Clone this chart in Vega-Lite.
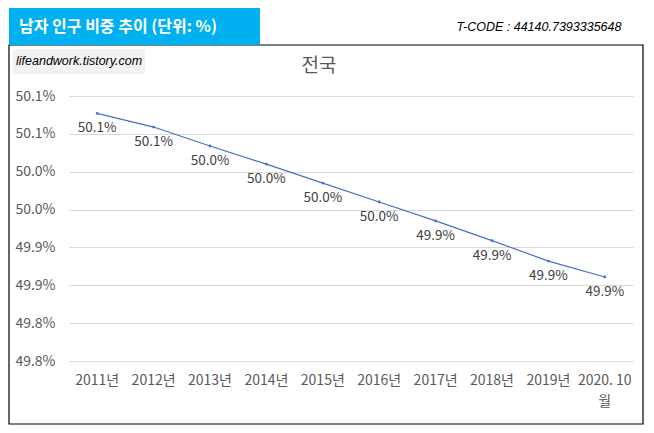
{
  "$schema": "https://vega.github.io/schema/vega-lite/v6.json",
  "autosize": "none",
  "padding": {"left": 69, "top": 96, "right": 21, "bottom": 72},
  "width": 564,
  "height": 265,
  "background": "white",
  "config": {"view": {"stroke": null}, "font": "Noto Sans CJK KR"},
  "data": {"values": [
    {"period": "2011년", "ratio": 0.50077},
    {"period": "2012년", "ratio": 0.50059},
    {"period": "2013년", "ratio": 0.50034},
    {"period": "2014년", "ratio": 0.50010},
    {"period": "2015년", "ratio": 0.49985},
    {"period": "2016년", "ratio": 0.49960},
    {"period": "2017년", "ratio": 0.49935},
    {"period": "2018년", "ratio": 0.49909},
    {"period": "2019년", "ratio": 0.49882},
    {"period": "2020. 10월", "ratio": 0.49861}
  ]},
  "layer": [
    {
      "data": {"values": [{"t": "box"}]},
      "mark": {"type": "rect", "fill": null, "stroke": "black", "strokeWidth": 1.2, "clip": false},
      "encoding": {"x": {"value": -60}, "x2": {"value": 574}, "y": {"value": -51}, "y2": {"value": 328}}
    },
    {
      "data": {"values": [{"t": "title"}]},
      "mark": {"type": "rect", "fill": "#00B0F0", "clip": false},
      "encoding": {"x": {"value": -60}, "x2": {"value": 191}, "y": {"value": -88}, "y2": {"value": -51}}
    },
    {
      "data": {"values": [{"t": "남자 인구 비중 추이 (단위: %)"}]},
      "mark": {"type": "text", "align": "left", "baseline": "middle", "color": "white", "fontSize": 16, "fontWeight": "bold", "font": "Noto Sans CJK KR"},
      "encoding": {"x": {"value": -50}, "y": {"value": -69}, "text": {"field": "t"}}
    },
    {
      "data": {"values": [{"t": "T-CODE : 44140.7393335648"}]},
      "mark": {"type": "text", "align": "center", "baseline": "middle", "color": "black", "fontSize": 12.5, "fontStyle": "italic", "font": "Liberation Sans"},
      "encoding": {"x": {"value": 470}, "y": {"value": -69}, "text": {"field": "t"}}
    },
    {
      "data": {"values": [{"t": "wm"}]},
      "mark": {"type": "rect", "fill": "#F2F2F2", "clip": false},
      "encoding": {"x": {"value": -56}, "x2": {"value": 76}, "y": {"value": -47}, "y2": {"value": -22}}
    },
    {
      "data": {"values": [{"t": "lifeandwork.tistory.com"}]},
      "mark": {"type": "text", "align": "left", "baseline": "middle", "color": "black", "fontSize": 12.5, "fontStyle": "italic", "font": "Liberation Sans"},
      "encoding": {"x": {"value": -53}, "y": {"value": -35}, "text": {"field": "t"}}
    },
    {
      "data": {"values": [{"t": "전국"}]},
      "mark": {"type": "text", "align": "center", "baseline": "middle", "color": "#595959", "fontSize": 19, "font": "Noto Sans CJK KR"},
      "encoding": {"x": {"value": 250}, "y": {"value": -30}, "text": {"field": "t"}}
    },
    {
      "mark": {"type": "line", "color": "#4472C4", "strokeWidth": 1.2},
      "encoding": {
        "x": {"field": "period", "type": "ordinal", "sort": null,
          "scale": {"type": "band", "paddingInner": 0, "paddingOuter": 0},
          "axis": {"title": null, "ticks": false, "domain": false, "grid": false,
            "labelAngle": 0, "labelFontSize": 14, "labelColor": "#595959", "labelPadding": 12,
            "labelFont": "Noto Sans CJK KR", "labelLineHeight": 21,
            "labelExpr": "datum.value == '2020. 10월' ? ['2020. 10', '월'] : datum.value"}},
        "y": {"field": "ratio", "type": "quantitative",
          "scale": {"domain": [0.4975, 0.501], "nice": false, "zero": false},
          "axis": {"title": null, "ticks": false, "domain": false, "gridColor": "#D9D9D9",
            "tickCount": 8, "labelOverlap": false, "labelBound": false, "labelFlush": false,
            "labelFontSize": 14, "labelColor": "#595959", "labelPadding": 14,
            "labelFont": "Noto Sans CJK KR",
            "labelExpr": "format(datum.value + 0.000001, '.1%')"}}
      }
    },
    {
      "mark": {"type": "point", "filled": true, "color": "#4472C4", "size": 8, "opacity": 1},
      "encoding": {
        "x": {"field": "period", "type": "ordinal", "sort": null},
        "y": {"field": "ratio", "type": "quantitative"}
      }
    },
    {
      "mark": {"type": "text", "dy": 15, "align": "center", "baseline": "middle", "fontSize": 13.5, "color": "#404040", "font": "Noto Sans CJK KR"},
      "encoding": {
        "x": {"field": "period", "type": "ordinal", "sort": null},
        "y": {"field": "ratio", "type": "quantitative"},
        "text": {"field": "ratio", "type": "quantitative", "format": ".1%"}
      }
    }
  ]
}
